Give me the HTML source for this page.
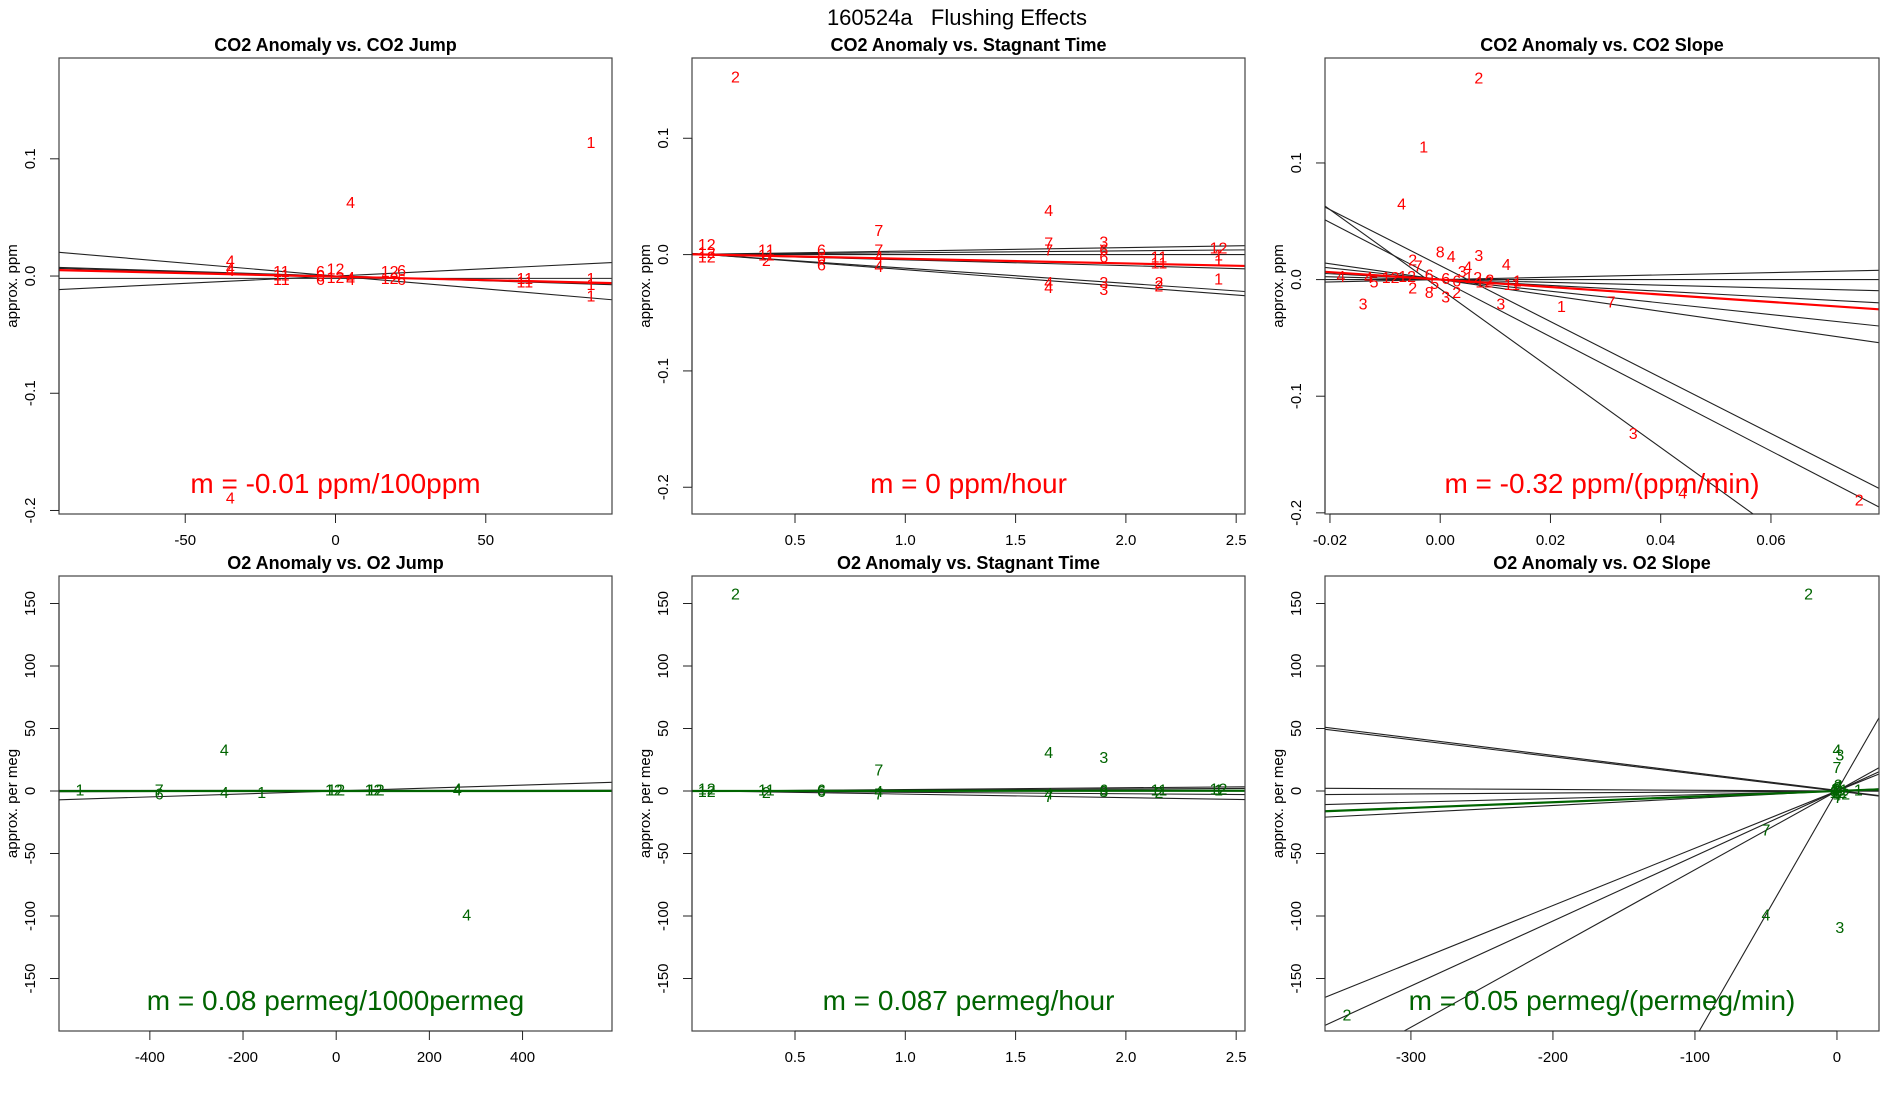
<!DOCTYPE html>
<html><head><meta charset="utf-8">
<style>
html,body{margin:0;padding:0;background:#fff;overflow:hidden;width:1900px;height:1100px;}
svg{display:block;font-family:"Liberation Sans",sans-serif;}
</style></head>
<body>
<svg id="chart" width="1900" height="1100" viewBox="0 0 1900 1100" xmlns="http://www.w3.org/2000/svg">
<rect width="1900" height="1100" fill="#fff"/>
<text x="957" y="25" font-size="22" text-anchor="middle" style="white-space:pre">160524a   Flushing Effects</text>
</svg>
<script>
// ---- Panel 1: CO2 Anomaly vs CO2 Jump ----
const p1X=[85,5,-35,-35,-35,-35,-18,-18,-18,-5,-5,-5,0,0,5,5,18,18,22,22,63,63,85,85,85];
const p1Y=[0.113,0.062,0.012,0.006,0.004,-0.19,0.003,0.0,-0.004,0.003,-0.001,-0.004,0.005,-0.002,-0.002,-0.004,0.003,-0.003,0.004,-0.004,-0.003,-0.006,-0.003,-0.008,-0.018];
const p1Lab=["1","4","4","4","4","4","11","11","11","6","6","6","12","12","4","4","12","12","6","6","11","11","1","1","1"];
const p1Slope=[-0.00022,0.000125,0.0,-0.00008,-0.00007];
const p1Int=[0.0,0.0,-0.002,0.0,0.0];
const p1FitSlope=[-0.00006];const p1FitInt=[-0.0005];
const p1XTicks=[-50,0,50];const p1YTicks=[0.1,0.0,-0.1,-0.2];
const p1XTickLab=["-50","0","50"];const p1YTickLab=["0.1","0.0","-0.1","-0.2"];
// ---- Panel 2: CO2 Anomaly vs Stagnant Time ----
const p2X=[0.23,0.1,0.1,0.1,0.37,0.37,0.37,0.62,0.62,0.62,0.88,0.88,0.88,0.88,1.65,1.65,1.65,1.65,1.65,1.9,1.9,1.9,1.9,1.9,2.15,2.15,2.15,2.15,2.42,2.42,2.42,2.42];
const p2Y=[0.152,0.008,0.001,-0.003,0.003,-0.001,-0.006,0.003,-0.004,-0.01,0.02,0.003,-0.003,-0.011,0.037,0.009,0.003,-0.025,-0.029,0.01,0.003,-0.003,-0.025,-0.031,-0.003,-0.008,-0.025,-0.028,0.005,-0.001,-0.006,-0.022];
const p2Lab=["2","12","12","12","11","11","2","6","6","6","7","7","4","4","4","7","7","4","4","3","6","6","3","3","11","11","2","2","12","1","1","1"];
const p2Slope=[-0.0145,-0.013,0.003,0.0016,-0.005,0.0];
const p2Int=[0.0015,0.0013,0.0,0.0,0.0005,0.0];
const p2FitSlope=[-0.004];const p2FitInt=[0.0004];
const p2XTicks=[0.5,1.0,1.5,2.0,2.5];const p2YTicks=[0.1,0.0,-0.1,-0.2];
const p2XTickLab=["0.5","1.0","1.5","2.0","2.5"];const p2YTickLab=["0.1","0.0","-0.1","-0.2"];
// ---- Panel 3: CO2 Anomaly vs CO2 Slope ----
const p3X=[0.007,-0.003,-0.007,0.0,0.002,0.007,0.012,-0.005,-0.004,0.005,-0.018,-0.013,-0.012,-0.014,0.011,0.022,0.031,0.035,0.044,0.076,0.013,-0.002,0.001,-0.005,0.003,-0.009,-0.006,-0.002,0.001,0.003,0.006,0.008,0.004,-0.001,0.009,0.014];
const p3Y=[0.172,0.113,0.064,0.023,0.019,0.02,0.012,0.016,0.011,0.01,0.002,0.001,-0.003,-0.022,-0.022,-0.024,-0.02,-0.133,-0.184,-0.19,-0.005,-0.012,-0.016,-0.008,-0.012,0.001,0.002,0.003,0.0,-0.002,0.001,-0.003,0.006,-0.004,-0.001,-0.002];
const p3Lab=["2","1","4","8","4","3","4","2","7","4","4","4","5","3","3","1","7","3","4","2","11","8","3","2","2","12","12","6","6","6","12","12","3","5","2","1"];
const p3Slope=[-2.4,-3.4,-2.45,-0.68,-0.5,-0.32,-0.25,-0.12,0.1,0.0];
const p3Int=[0.012,-0.008,0.0,0.0,0.0,0.0,0.0,0.0,0.0,0.0];
const p3FitSlope=[-0.32];const p3FitInt=[0.0];
const p3XTicks=[-0.02,0.0,0.02,0.04,0.06];const p3YTicks=[0.1,0.0,-0.1,-0.2];
const p3XTickLab=["-0.02","0.00","0.02","0.04","0.06"];const p3YTickLab=["0.1","0.0","-0.1","-0.2"];
// ---- Panel 4: O2 Anomaly vs O2 Jump ----
const p4X=[-550,-380,-380,-240,-240,-160,-5,0,80,85,260,260,280];
const p4Y=[0,0,-3,32,-2,-2,0,0,0,0,1,0,-100];
const p4Lab=["1","7","6","4","4","1","12","12","12","12","4","4","4"];
const p4Slope=[0.0118,0.001,0.0,-0.0005];
const p4Int=[0.0,0.0,0.5,0.0];
const p4FitSlope=[0.00008];const p4FitInt=[0.0];
const p4XTicks=[-400,-200,0,200,400];const p4YTicks=[150,100,50,0,-50,-100,-150];
const p4XTickLab=["-400","-200","0","200","400"];const p4YTickLab=["150","100","50","0","-50","-100","-150"];
// ---- Panel 5: O2 Anomaly vs Stagnant Time ----
const p5X=[0.23,0.88,1.65,1.9,0.1,0.1,0.37,0.37,0.62,0.62,0.88,0.88,1.65,1.65,1.9,1.9,2.15,2.15,2.42,2.42];
const p5Y=[157,16,30,26,1,-1,0,-2,0,-1,-1,-3,-3,-5,0,-1,0,-2,1,0];
const p5Lab=["2","7","4","3","12","12","11","2","6","6","4","7","4","7","6","3","11","2","12","1"];
const p5Slope=[-2.8,-1.2,0.8,1.4,0.0];
const p5Int=[0.3,0.2,0.0,-0.2,0.0];
const p5FitSlope=[0.087];const p5FitInt=[0.0];
const p5XTicks=[0.5,1.0,1.5,2.0,2.5];const p5YTicks=[150,100,50,0,-50,-100,-150];
const p5XTickLab=["0.5","1.0","1.5","2.0","2.5"];const p5YTickLab=["150","100","50","0","-50","-100","-150"];
// ---- Panel 6: O2 Anomaly vs O2 Slope ----
const p6X=[-20,0,2,0,-50,-50,2,-345,15,0,1,2,-1,0,1,3,-2,1,2];
const p6Y=[157,32,28,18,-32,-100,-110,-180,0,2,-2,0,1,-4,4,-3,-1,-6,3];
const p6Lab=["2","4","3","7","7","4","3","2","1","6","12","11","2","4","3","12","6","7","1"];
const p6Slope=[-0.14,-0.137,-0.006,0.008,0.03,0.058,0.458,0.52,0.63,1.98];
const p6Int=[0.5,0.0,0.0,0.0,0.0,0.0,0.0,0.0,0.0,0.0];
const p6FitSlope=[0.045];const p6FitInt=[0.0];
const p6XTicks=[-300,-200,-100,0];const p6YTicks=[150,100,50,0,-50,-100,-150];
const p6XTickLab=["-300","-200","-100","0"];const p6YTickLab=["150","100","50","0","-50","-100","-150"];

const NS="http://www.w3.org/2000/svg";
const svg=document.getElementById('chart');
function mk(tag,attrs,parent){const e=document.createElementNS(NS,tag);for(const k in attrs)e.setAttribute(k,attrs[k]);(parent||svg).appendChild(e);return e;}

function panel(id,box,xlim,ylim,title,ylab,X,Y,L,S,I,FS,FI,xt,yt,xtl,ytl,col,mtext){
  const [x0,y0,x1,y1]=box;
  const sx=v=>x0+(v-xlim[0])/(xlim[1]-xlim[0])*(x1-x0);
  const sy=v=>y1-(v-ylim[0])/(ylim[1]-ylim[0])*(y1-y0);
  const g=mk('g',{});
  
  
  const cp=mk('clipPath',{id:'clip-'+id},g);
  mk('rect',{x:x0,y:y0,width:x1-x0,height:y1-y0},cp);
  const t=mk('text',{x:(x0+x1)/2,y:y0-7,'font-size':18,'font-weight':'bold','text-anchor':'middle'},g);
  t.textContent=title;
  
  
  const yl=mk('text',{x:0,y:0,'font-size':15,'text-anchor':'middle',transform:`translate(${x0-42},${(y0+y1)/2}) rotate(-90)`},g);
  yl.textContent=ylab;
  
  
  const lg=mk('g',{'clip-path':`url(#clip-${id})`},g);
  for(let i=0;i<S.length;i++){
    const ln=mk('line',{x1:sx(xlim[0]),y1:sy(S[i]*xlim[0]+I[i]),x2:sx(xlim[1]),y2:sy(S[i]*xlim[1]+I[i]),stroke:'#222','stroke-width':1.1},lg);
    
    
  }
  for(let i=0;i<X.length;i++){
    const tx=mk('text',{x:sx(X[i]),y:sy(Y[i]),'font-size':16,fill:col,'text-anchor':'middle','dominant-baseline':'central'},lg);
    tx.textContent=L[i];
    
    
  }
  for(let i=0;i<FS.length;i++){
    const ln=mk('line',{x1:sx(xlim[0]),y1:sy(FS[i]*xlim[0]+FI[i]),x2:sx(xlim[1]),y2:sy(FS[i]*xlim[1]+FI[i]),stroke:col,'stroke-width':2.2},lg);
    
    
  }
  const bx=mk('rect',{x:x0,y:y0,width:x1-x0,height:y1-y0,fill:'none',stroke:'#444','stroke-width':1.2},g);
  
  
  mk('line',{x1:sx(xt[0]),y1:y1,x2:sx(xt[xt.length-1]),y2:y1,stroke:'#222','stroke-width':1},g);
  for(let i=0;i<xt.length;i++){
    mk('line',{x1:sx(xt[i]),y1:y1,x2:sx(xt[i]),y2:y1+9,stroke:'#222','stroke-width':1},g);
    const tl=mk('text',{x:sx(xt[i]),y:y1+31,'font-size':15,'text-anchor':'middle'},g);
    tl.textContent=xtl[i];
    
    
  }
  mk('line',{x1:x0,y1:sy(yt[0]),x2:x0,y2:sy(yt[yt.length-1]),stroke:'#222','stroke-width':1},g);
  for(let i=0;i<yt.length;i++){
    mk('line',{x1:x0-9,y1:sy(yt[i]),x2:x0,y2:sy(yt[i]),stroke:'#222','stroke-width':1},g);
    const tl=mk('text',{x:0,y:0,'font-size':15,'text-anchor':'middle',transform:`translate(${x0-24},${sy(yt[i])}) rotate(-90)`},g);
    tl.textContent=ytl[i];
    
    
  }
  const m=mk('text',{x:(x0+x1)/2,y:y1-21,'font-size':28,fill:col,'text-anchor':'middle'},g);
  m.textContent=mtext;
  
  
}
const R='#ff0000',G='#006400';
panel('panel-co2-jump',[59,58,612,514],[-92,92],[-0.203,0.186],'CO2 Anomaly vs. CO2 Jump','approx. ppm',p1X,p1Y,p1Lab,p1Slope,p1Int,p1FitSlope,p1FitInt,p1XTicks,p1YTicks,p1XTickLab,p1YTickLab,R,'m = -0.01 ppm/100ppm');
panel('panel-co2-stagnant',[692,58,1245,514],[0.033,2.54],[-0.223,0.169],'CO2 Anomaly vs. Stagnant Time','approx. ppm',p2X,p2Y,p2Lab,p2Slope,p2Int,p2FitSlope,p2FitInt,p2XTicks,p2YTicks,p2XTickLab,p2YTickLab,R,'m = 0 ppm/hour');
panel('panel-co2-slope',[1325,58,1879,514],[-0.0209,0.0796],[-0.201,0.19],'CO2 Anomaly vs. CO2 Slope','approx. ppm',p3X,p3Y,p3Lab,p3Slope,p3Int,p3FitSlope,p3FitInt,p3XTicks,p3YTicks,p3XTickLab,p3YTickLab,R,'m = -0.32 ppm/(ppm/min)');
panel('panel-o2-jump',[59,576,612,1031],[-595,592],[-192,172],'O2 Anomaly vs. O2 Jump','approx. per meg',p4X,p4Y,p4Lab,p4Slope,p4Int,p4FitSlope,p4FitInt,p4XTicks,p4YTicks,p4XTickLab,p4YTickLab,G,'m = 0.08 permeg/1000permeg');
panel('panel-o2-stagnant',[692,576,1245,1031],[0.033,2.54],[-192,172],'O2 Anomaly vs. Stagnant Time','approx. per meg',p5X,p5Y,p5Lab,p5Slope,p5Int,p5FitSlope,p5FitInt,p5XTicks,p5YTicks,p5XTickLab,p5YTickLab,G,'m = 0.087 permeg/hour');
panel('panel-o2-slope',[1325,576,1879,1031],[-360.5,29.6],[-192,172],'O2 Anomaly vs. O2 Slope','approx. per meg',p6X,p6Y,p6Lab,p6Slope,p6Int,p6FitSlope,p6FitInt,p6XTicks,p6YTicks,p6XTickLab,p6YTickLab,G,'m = 0.05 permeg/(permeg/min)');
</script>
</body></html>
